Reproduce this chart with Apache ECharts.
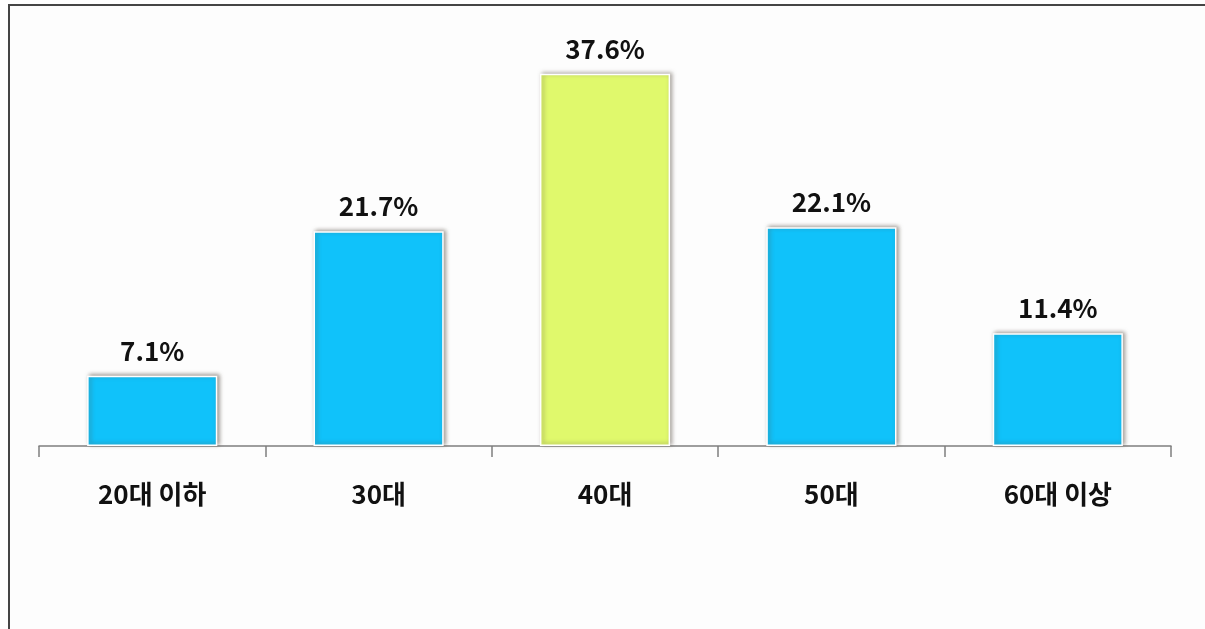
<!DOCTYPE html>
<html>
<head>
<meta charset="utf-8">
<script src="https://cdn.jsdelivr.net/npm/echarts@6/dist/echarts.min.js"></script>
<style>
html,body{margin:0;padding:0;background:#fff;overflow:hidden;}
#wrap{position:relative;width:1205px;height:629px;overflow:hidden;}
#frame{position:absolute;left:8px;top:4px;width:1210px;height:640px;border-left:2px solid #454545;border-top:2px solid #454545;background:#fdfdfd;}
#chart{position:absolute;left:0;top:0;width:1205px;height:629px;}
</style>
</head>
<body>
<div id="wrap">
<div id="frame"></div>
<div id="chart"></div>
</div>
<script>
const categories = ['20대 이하', '30대', '40대', '50대', '60대 이상'];
const values = [7.1, 21.7, 37.6, 22.1, 11.4];
const highlightIndex = 2;

const blue = '#10c2fa';
const lime = '#e0f96c';

const chart = echarts.init(document.getElementById('chart'), null, {renderer: 'canvas'});
chart.setOption({
  animation: false,
  backgroundColor: 'transparent',
  grid: {left: 39, right: 34, top: 50, bottom: 183, containLabel: false},
  xAxis: {
    type: 'category',
    data: categories,
    axisLine: {lineStyle: {color: '#7f7f7f', width: 1.5}},
    axisTick: {show: true, length: 11, lineStyle: {color: '#7f7f7f', width: 1.5}},
    axisLabel: {
      margin: 35,
      color: '#111',
      fontSize: 26,
      fontWeight: 'bold',
      fontFamily: '"Noto Sans CJK KR", "Noto Sans", sans-serif'
    }
  },
  yAxis: {
    type: 'value',
    min: 0,
    max: 40,
    show: false,
    splitLine: {show: false}
  },
  series: [{
    type: 'bar',
    barWidth: '57.5%',
    data: values.map((v, i) => ({
      value: v,
      itemStyle: {color: i === highlightIndex ? lime : blue}
    })),
    itemStyle: {
      borderColor: '#ffffff',
      borderWidth: 1.5,
      shadowColor: 'rgba(90,80,70,0.55)',
      shadowBlur: 4,
      shadowOffsetX: 2,
      shadowOffsetY: -1
    },
    label: {
      show: true,
      position: 'top',
      distance: 12,
      formatter: p => p.value.toFixed(1) + '%',
      color: '#111',
      fontSize: 26,
      fontWeight: 'bold',
      fontFamily: '"Noto Sans CJK KR", "Noto Sans", sans-serif'
    }
  }]
});
</script>
</body>
</html>
